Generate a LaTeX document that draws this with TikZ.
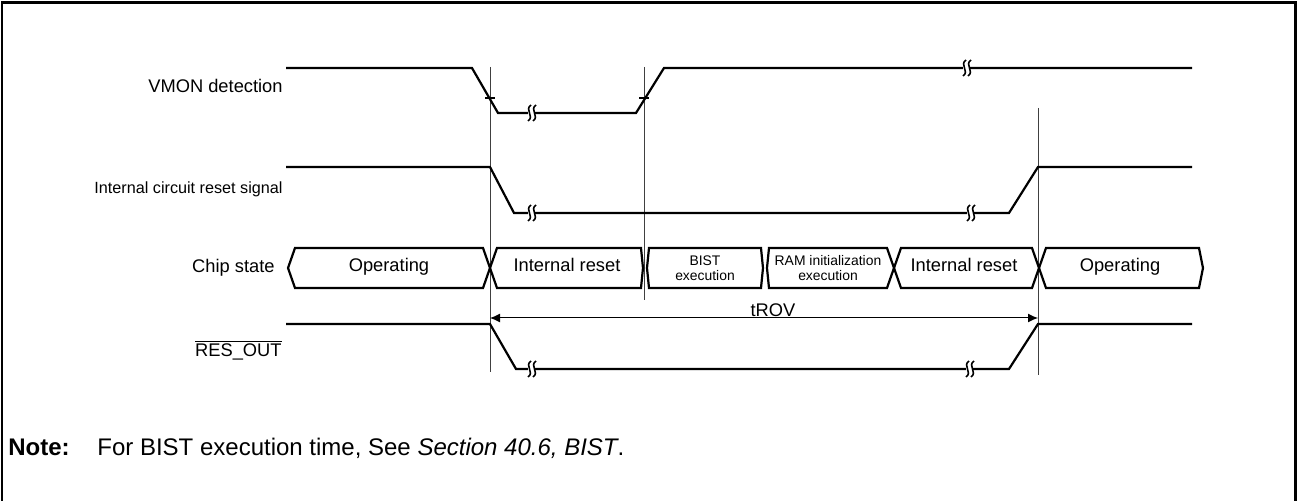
\documentclass[tikz,border=0pt]{standalone}
\usepackage{fontspec}
\setmainfont{Liberation Sans}
\usetikzlibrary{arrows.meta}
\tikzset{
  sig/.style={line width=1.1pt, line join=miter},
  guide/.style={line width=0.5pt, black!75},
  statebox/.style={line width=1.1pt, line join=miter},
  lbl/.style={inner sep=0pt, font=\fontsize{9.15}{11}\selectfont},
  small/.style={inner sep=0pt, align=center, font=\fontsize{6.95}{7.6}\selectfont},
  frame/.style={line width=1.3pt},
  brk/.style={line width=0.8pt},
}
\newcommand\sigbreak[2]{%
  \fill[white] (#1-3,#2-2.2) rectangle (#1+3,#2+2.2);
  \draw[brk] (#1,#2-8) .. controls (#1-7,#2-3) and (#1+4,#2+3) .. (#1-3,#2+8);
  \draw[brk] (#1+5,#2-8) .. controls (#1-2,#2-3) and (#1+9,#2+3) .. (#1+2,#2+8);
}
\begin{document}
\begin{tikzpicture}[x=0.5pt,y=-0.5pt]
\useasboundingbox (0,0) rectangle (1298,501);
% frame
\draw[frame] (2,501) -- (2,2.5) -- (1295.5,2.5) -- (1295.5,501);

% guide lines
\coordinate (g1t) at (490,67);  \coordinate (g1b) at (490,372);
\coordinate (g2t) at (644,67);  \coordinate (g2b) at (644,300);
\coordinate (g3t) at (1038,108); \coordinate (g3b) at (1038,375);
\draw[guide] (g1t) -- (g1b);
\draw[guide] (g2t) -- (g2b);
\draw[guide] (g3t) -- (g3b);

% labels
\node[lbl, anchor=east] (lvmon) at (283,86) {VMON detection};
\node[lbl, anchor=east, font=\fontsize{8.1}{10}\selectfont] (lint) at (283,189) {Internal circuit reset signal};
\node[lbl, anchor=base east] (lchip) at (275,273) {Chip state};
\node[lbl, anchor=base east] (lres) at (282,357) {$\overline{\hbox{RES\_OUT}}$};

% VMON detection
\draw[sig] (286,68) -- (472,68) -- (498,113) -- (636,113) -- (664,68) -- (1192,68);
\draw[line width=0.7pt] (485,98) -- (495,98);
\draw[line width=0.7pt] (639,98) -- (649,98);
\sigbreak{531}{113}
\sigbreak{966}{68}

% Internal circuit reset signal
\draw[sig] (286,167) -- (490,167) -- (514,213) -- (1009,213) -- (1038,167) -- (1192,167);
\sigbreak{531}{213}
\sigbreak{970}{213}

% Chip state
\draw[statebox] (288,268) -- (295,248) -- (483,248) -- (490,268) -- (483,288) -- (295,288) -- cycle;
\node[lbl, anchor=base] (s1) at (389,272) {Operating};
\draw[statebox] (490,268) -- (497,248) -- (641,248) -- (643,268) -- (641,288) -- (497,288) -- cycle;
\node[lbl, anchor=base] (s2) at (567,272) {Internal reset};
\draw[statebox] (647,268) -- (649,248) -- (761,248) -- (763,268) -- (761,288) -- (649,288) -- cycle;
\node[small] (s3) at (705,268) {BIST\\execution};
\draw[statebox] (767,268) -- (769,248) -- (887,248) -- (894,268) -- (887,288) -- (769,288) -- cycle;
\node[small] (s4) at (828,268) {RAM initialization\\execution};
\draw[statebox] (894,268) -- (901,248) -- (1032,248) -- (1039,268) -- (1032,288) -- (901,288) -- cycle;
\node[lbl, anchor=base] (s5) at (964,272) {Internal reset};
\draw[statebox] (1039,268) -- (1046,248) -- (1199,248) -- (1203,268) -- (1199,288) -- (1046,288) -- cycle;
\node[lbl, anchor=base] (s6) at (1120,272) {Operating};

% tROV
\coordinate (a1) at (490,318);
\coordinate (a2) at (1038,318);
\draw[line width=0.5pt, {Latex[length=5pt,width=4.5pt]}-{Latex[length=5pt,width=4.5pt]}] (a1) -- (a2);
\node[lbl, anchor=base] (trov) at (773,317) {tROV};

% RES_OUT
\draw[sig] (286,324) -- (490,324) -- (516,369) -- (1009,369) -- (1038,324) -- (1192,324);
\sigbreak{531}{369}
\sigbreak{969}{369}

% Note
\node[inner sep=0pt, anchor=base west, font=\fontsize{12}{14}\selectfont\bfseries] (note) at (8,456) {Note:};
\node[inner sep=0pt, anchor=base west, font=\fontsize{12}{14}\selectfont] (notetext) at (97,456) {For BIST execution time, See \textit{Section 40.6, BIST}.};
\end{tikzpicture}
\end{document}
